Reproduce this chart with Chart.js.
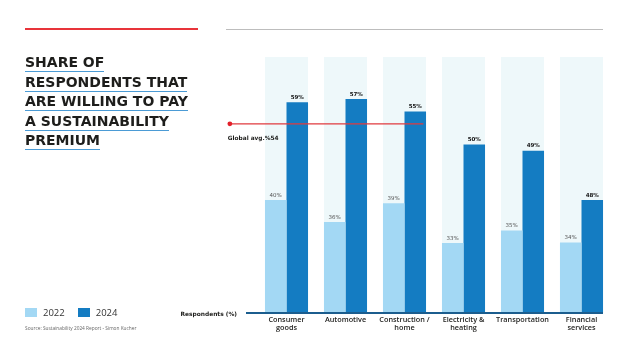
<!DOCTYPE html>
<html>
<head>
<meta charset="utf-8">
<script src="https://cdn.jsdelivr.net/npm/chart.js@4.4.1/dist/chart.umd.min.js"></script>
<style>
  html, body { margin: 0; padding: 0; background: #fff; }
  #wrap { position: relative; width: 628px; height: 353px; overflow: hidden; }
  #chart { position: absolute; left: 0; top: 0; }
  .rule { position: absolute; height: 0; }
  #title { position: absolute; left: 25px; top: 54px; font-family: "DejaVu Sans", sans-serif; font-weight: bold; font-size: 14px; color: #1d1d1b; }
  #title span { display: table; line-height: 17px; border-bottom: 1.5px solid #4b9bd5; margin-bottom: 1.5px; white-space: nowrap; }
  #legend { position: absolute; left: 25px; top: 306px; font-family: "Open Sans", sans-serif; font-size: 9.5px; color: #333; display: flex; align-items: center; }
  #legend .sw { width: 12px; height: 9px; margin-right: 6px; }
  #legend .it { display: flex; align-items: center; margin-right: 13px; }
  #source { position: absolute; left: 25px; top: 325px; font-family: "Open Sans", sans-serif; font-size: 4.8px; color: #666; }
</style>
</head>
<body>
<div id="wrap">
  <canvas id="chart" width="628" height="353"></canvas>
  <div class="rule" style="left:25px;width:173px;top:28px;border-top:2px solid #e8343a;"></div>
  <div class="rule" style="left:226px;width:377px;top:28.5px;border-top:1px solid #bdbdbd;"></div>
  <div id="title"></div>
  <div id="legend"></div>
  <div id="source">Source: Sustainability 2024 Report - Simon Kucher</div>
</div>
<script>
const titleLines = ['SHARE OF', 'RESPONDENTS THAT', 'ARE WILLING TO PAY', 'A SUSTAINABILITY', 'PREMIUM'];
const categories = [['Consumer', 'goods'], 'Automotive', ['Construction /', 'home'], ['Electricity &', 'heating'], 'Transportation', ['Financial', 'services']];
const seriesNames = ['2022', '2024'];
// bar heights as drawn in the picture
const bars2022 = [31.8, 25.6, 30.9, 19.7, 23.2, 19.8];
const bars2024 = [59.3, 60.2, 56.7, 47.4, 45.6, 31.8];
// printed value labels
const labels2022 = ['40%', '36%', '39%', '33%', '35%', '34%'];
const labels2024 = ['59%', '57%', '55%', '50%', '49%', '48%'];
const globalAvg = 53.2;
const globalAvgLabel = 'Global avg.%54';
const yMax = 72;

const colors = ['#a3d8f4', '#147cc2'];
const catPct = 0.73;

// Title + legend
document.getElementById('title').innerHTML = titleLines.map(t => `<span>${t}</span>`).join('');
document.getElementById('legend').innerHTML = seriesNames.map((s, i) =>
    `<div class="it"><div class="sw" style="background:${colors[i]}"></div>${s}</div>`).join('');

const extras = {
    id: 'extras',
    beforeDatasetsDraw(chart) {
        const {ctx, chartArea, scales: {x, y}} = chart;
        const w = (x.width / categories.length) * catPct;
        const base = y.getPixelForValue(0);
        ctx.save();
        ctx.fillStyle = '#eef8fa';
        categories.forEach((c, i) => {
            const cx = x.getPixelForValue(i);
            ctx.fillRect(cx - w / 2, chartArea.top, w, base - chartArea.top);
        });
        ctx.restore();
    },
    afterDatasetsDraw(chart) {
        const {ctx, chartArea, scales: {x, y}} = chart;
        const base = y.getPixelForValue(0);
        ctx.save();

        // baseline
        ctx.strokeStyle = '#1b5d8e';
        ctx.lineWidth = 2;
        ctx.beginPath();
        ctx.moveTo(chartArea.left - 11, base);
        ctx.lineTo(chartArea.right - 8, base);
        ctx.stroke();

        ctx.fillStyle = '#1d1d1b';
        ctx.font = 'bold 5.9px "DejaVu Sans"';
        ctx.textAlign = 'right';
        ctx.textBaseline = 'middle';
        ctx.fillText('Respondents (%)', chartArea.left - 20, base + 1);

        // value labels
        const lbls = [labels2022, labels2024];
        chart.data.datasets.forEach((ds, di) => {
            const meta = chart.getDatasetMeta(di);
            ctx.font = (di === 1 ? 'bold ' : '') + '5.5px "DejaVu Sans"';
            ctx.fillStyle = di === 1 ? '#111' : '#555';
            ctx.textAlign = 'center';
            meta.data.forEach((bar, i) => {
                ctx.fillText(lbls[di][i], bar.x, bar.y - 4.8);
            });
        });

        // global average line
        const ay = y.getPixelForValue(globalAvg);
        const ax0 = x.getPixelForValue(-0.96);
        const ax1 = x.getPixelForValue(2.32);
        ctx.strokeStyle = '#e03a3e';
        ctx.lineWidth = 1.2;
        ctx.beginPath();
        ctx.moveTo(ax0, ay);
        ctx.lineTo(ax1, ay);
        ctx.stroke();
        ctx.fillStyle = '#e3202a';
        ctx.beginPath();
        ctx.arc(ax0, ay, 2.4, 0, Math.PI * 2);
        ctx.fill();
        ctx.fillStyle = '#1d1d1b';
        ctx.font = 'bold 5.8px "DejaVu Sans"';
        ctx.textAlign = 'left';
        ctx.fillText(globalAvgLabel, ax0 - 2, ay + 15);
        ctx.restore();
    }
};

new Chart(document.getElementById('chart'), {
    type: 'bar',
    data: {
        labels: categories,
        datasets: [
            { label: seriesNames[0], data: bars2022, backgroundColor: colors[0] },
            { label: seriesNames[1], data: bars2024, backgroundColor: colors[1] }
        ]
    },
    options: {
        responsive: false,
        animation: false,
        layout: { padding: { left: 257, right: 17, top: 57, bottom: 0 } },
        datasets: { bar: { categoryPercentage: catPct, barPercentage: 1.0, borderWidth: 0 } },
        plugins: { legend: { display: false }, tooltip: { enabled: false } },
        scales: {
            y: { display: false, min: 0, max: yMax },
            x: {
                grid: { display: false, drawTicks: false },
                border: { display: false },
                afterFit: s => { s.height = 40; },
                ticks: {
                    color: '#1d1d1b',
                    padding: 3,
                    maxRotation: 0,
                    autoSkip: false,
                    font: { family: '"Open Sans"', size: 7.3, weight: '600', lineHeight: 1.1 }
                }
            }
        }
    },
    plugins: [extras]
});
</script>
</body>
</html>
